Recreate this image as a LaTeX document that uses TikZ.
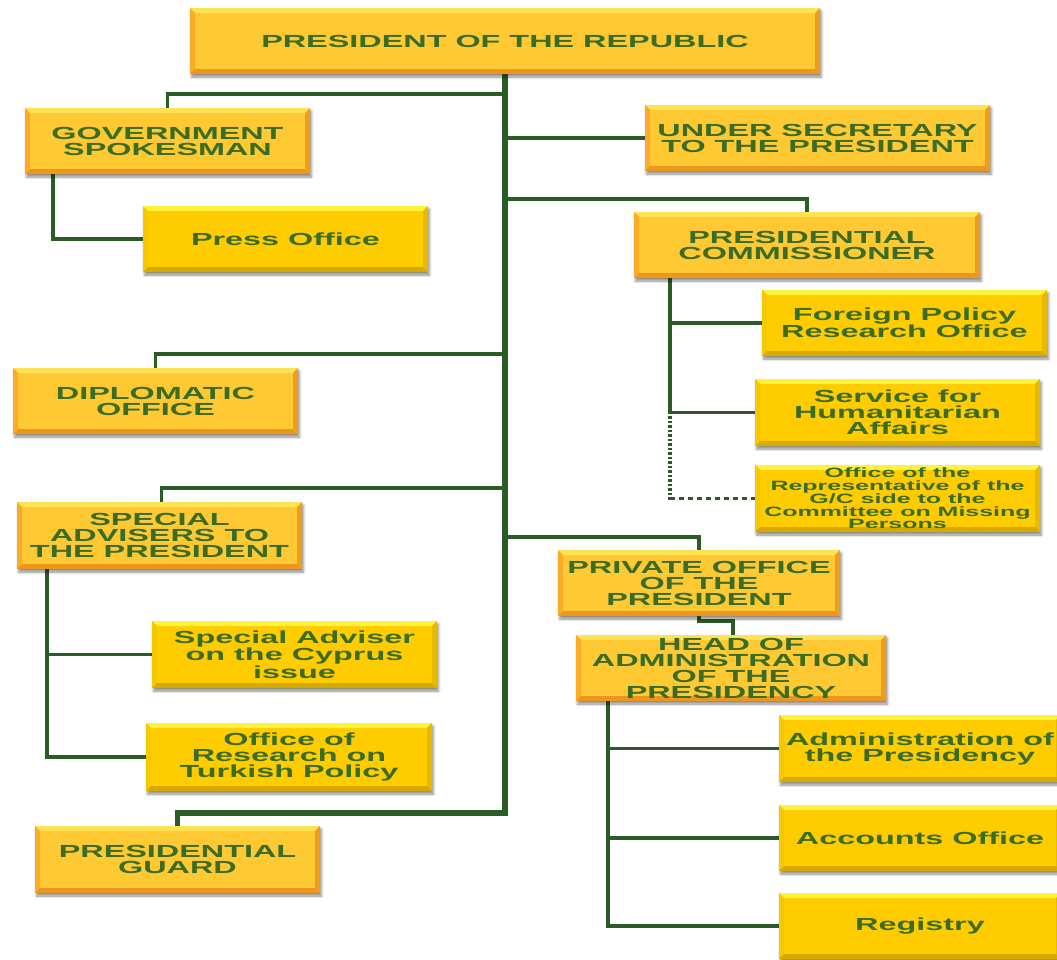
\documentclass[tikz,border=0pt]{standalone}
\usepackage{fontspec}
\usetikzlibrary{shadows.blur,backgrounds,calc}
\newfontfamily\orgfont{Liberation Sans}[FakeStretch=1.85]

\definecolor{linegreen}{RGB}{44,92,38}
\definecolor{textgreen}{RGB}{58,108,36}
% major boxes: warm gold with orange bevel
\definecolor{majface}{RGB}{255,201,52}
\definecolor{majtop}{RGB}{255,226,84}
\definecolor{majleft}{RGB}{250,172,40}
\definecolor{majright}{RGB}{238,158,30}
\definecolor{majbot}{RGB}{236,150,30}
% minor boxes: bright yellow with yellow bevel
\definecolor{minface}{RGB}{255,204,0}
\definecolor{mintop}{RGB}{255,242,60}
\definecolor{minleft}{RGB}{246,200,0}
\definecolor{minright}{RGB}{230,186,0}
\definecolor{minbot}{RGB}{214,170,0}

\tikzset{
  bevelbox/.style n args={5}{
    rectangle, fill=#1, inner sep=2pt, align=center,
    text=textgreen,
    font=\orgfont\bfseries\fontsize{17.5}{16}\selectfont,
    blur shadow={shadow xshift=1.5pt, shadow yshift=-3pt,
                 shadow blur radius=2.5pt, shadow opacity=45},
    path picture={
      \coordinate (bnw) at (path picture bounding box.north west);
      \coordinate (bne) at (path picture bounding box.north east);
      \coordinate (bsw) at (path picture bounding box.south west);
      \coordinate (bse) at (path picture bounding box.south east);
      \fill[#2] (bnw) -- (bne) -- ([xshift=-5pt,yshift=-5pt]bne)
                -- ([xshift=5pt,yshift=-5pt]bnw) -- cycle;
      \fill[#3] (bnw) -- ([xshift=5pt,yshift=-5pt]bnw)
                -- ([xshift=5pt,yshift=5pt]bsw) -- (bsw) -- cycle;
      \fill[#4] (bne) -- ([xshift=-5pt,yshift=-5pt]bne)
                -- ([xshift=-5pt,yshift=5pt]bse) -- (bse) -- cycle;
      \fill[#5] (bsw) -- ([xshift=5pt,yshift=5pt]bsw)
                -- ([xshift=-5pt,yshift=5pt]bse) -- (bse) -- cycle;
    }},
  major/.style={bevelbox={majface}{majtop}{majleft}{majright}{majbot}},
  minor/.style={bevelbox={minface}{mintop}{minleft}{minright}{minbot}},
  trunk/.style={draw=linegreen, line width=5.5pt},
  branch/.style={draw=linegreen, line width=3.5pt},
  dotmark/.style={fill=linegreen},
  dashlink/.style={draw=linegreen, line width=3pt, dash pattern=on 5pt off 4pt},
  tiny/.style={font=\orgfont\bfseries\fontsize{13.5}{12.8}\selectfont}
}

\begin{document}
\begin{tikzpicture}[x=1pt,y=-1pt]
\useasboundingbox (0,0) rectangle (1057,959);

% ---- boxes ----
\node[major, minimum width=630pt, minimum height=66pt] (pres) at (505,41)
  {PRESIDENT OF THE REPUBLIC};
\node[major, minimum width=285pt, minimum height=66pt] (gov) at (167.5,141)
  {GOVERNMENT\\SPOKESMAN};
\node[minor, minimum width=285pt, minimum height=66pt] (press) at (285.5,239)
  {Press Office};
\node[major, minimum width=345pt, minimum height=66pt] (usec) at (817.5,138)
  {UNDER SECRETARY\\TO THE PRESIDENT};
\node[major, minimum width=346pt, minimum height=66pt] (pcom) at (807,245)
  {PRESIDENTIAL\\COMMISSIONER};
\node[minor, minimum width=285pt, minimum height=66pt] (fpro) at (904.5,323)
  {Foreign Policy\\Research Office};
\node[minor, minimum width=285pt, minimum height=67pt] (sha) at (897.5,412.5)
  {Service for\\Humanitarian\\Affairs};
\node[minor, tiny, minimum width=285pt, minimum height=67pt] (ocmp) at (897.5,498.5)
  {Office of the\\Representative of the\\G/C side to the\\Committee on Missing\\Persons};
\node[major, minimum width=285pt, minimum height=66pt] (dipl) at (155.5,401)
  {DIPLOMATIC\\OFFICE};
\node[major, minimum width=285pt, minimum height=67pt] (spad) at (159.5,535.5)
  {SPECIAL\\ADVISERS TO\\THE PRESIDENT};
\node[minor, minimum width=285pt, minimum height=67pt] (cyp) at (294.5,654.5)
  {Special Adviser\\on the  Cyprus\\issue};
\node[minor, minimum width=286pt, minimum height=68pt] (turk) at (289,757)
  {Office of\\Research on\\Turkish Policy};
\node[major, minimum width=285pt, minimum height=67pt] (guard) at (177.5,859.5)
  {PRESIDENTIAL\\GUARD};
\node[major, minimum width=282pt, minimum height=66pt] (priv) at (699,583)
  {PRIVATE OFFICE\\OF THE\\PRESIDENT};
\node[major, minimum width=310pt, minimum height=66pt] (head) at (731,668)
  {HEAD OF\\ADMINISTRATION\\OF THE\\PRESIDENCY};
\node[minor, minimum width=282pt, minimum height=67pt] (admin) at (920,748.5)
  {Administration of\\the Presidency};
\node[minor, minimum width=282pt, minimum height=66pt] (acct) at (920,838)
  {Accounts Office};
\node[minor, minimum width=282pt, minimum height=66pt] (reg) at (920,926)
  {Registry};

% ---- connectors ----
\begin{pgfonlayer}{background}
  \coordinate (tgov)   at (505,94);
  \coordinate (tusec)  at (505,138);
  \coordinate (tpcom)  at (505,199);
  \coordinate (tdipl)  at (505,354);
  \coordinate (tspad)  at (505,488);
  \coordinate (tpriv)  at (505,537);
  \coordinate (tguard) at (505,813);

  \draw[trunk] (pres.south) -- (tguard) -| (guard.north);
  \draw[branch] (tgov) -| (gov.north);
  \draw[branch] (tusec) -- (usec.west);
  \draw[branch] (tpcom) -| (pcom.north);
  \draw[branch] (tdipl) -| (dipl.north);
  \draw[branch] (tspad) -| ([xshift=2pt]spad.north);
  \draw[branch] (tpriv) -| (priv.north);

  \draw[branch] ([xshift=28pt]gov.south west) |- (press.west);

  \coordinate (cstem) at ([xshift=36pt]pcom.south west);
  \coordinate (cmid)  at ([yshift=-5pt]cstem |- sha.west);
  \coordinate (cbot)  at (cstem |- ocmp.west);
  \draw[branch] (cstem) |- (fpro.west);
  \draw[branch] (cstem) |- (sha.west);
  % dotted stem down to the committee office
  \foreach \i in {0,...,18}
    \fill[dotmark] ($(cmid)!\i/18!(cbot)$) +(-2,-1.3) rectangle +(2,1.3);
  \draw[dashlink] (cbot) -- (ocmp.west);

  \draw[branch] ([xshift=30pt]spad.south west) |- (cyp.west);
  \draw[branch] ([xshift=30pt]spad.south west) |- (turk.west);

  \draw[branch] (priv.south) -- ++(0,5) -| ([xshift=2pt]head.north);

  \draw[branch] ([xshift=32pt]head.south west) |- (admin.west);
  \draw[branch] ([xshift=32pt]head.south west) |- (acct.west);
  \draw[branch] ([xshift=32pt]head.south west) |- (reg.west);
\end{pgfonlayer}
\end{tikzpicture}
\end{document}
